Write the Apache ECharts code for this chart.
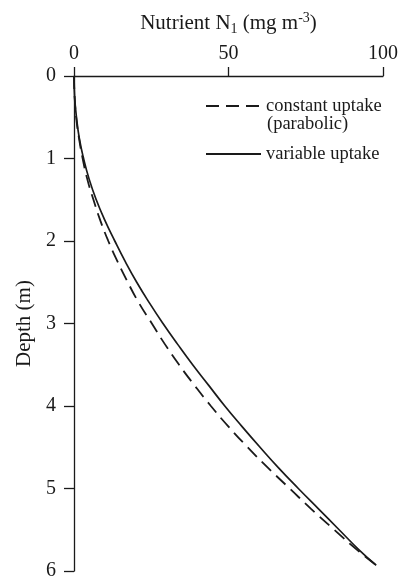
<!DOCTYPE html>
<html><head><meta charset="utf-8">
<script src="https://cdn.jsdelivr.net/npm/echarts@6/dist/echarts.min.js"></script>
<style>html,body{margin:0;padding:0;background:#fff}#c{width:401px;height:581px}</style>
</head><body><div id="c"></div>
<script>
// Depth (m) for each sampled point
const depths = [0, 0.25, 0.5, 0.75, 1, 1.25, 1.5, 1.75, 2, 2.25, 2.5, 2.75, 3, 3.25, 3.5, 3.75, 4, 4.25, 4.5, 4.75, 5, 5.25, 5.5, 5.75, 5.93];
// Nutrient N1 (mg m^-3), constant uptake (parabolic), dashed
const constantUptake = [0, 0.2, 0.7, 1.6, 2.8, 4.3, 6.3, 8.5, 11.1, 14.1, 17.4, 21.0, 25.2, 29.4, 34.0, 39.0, 44.3, 50.0, 56.2, 62.8, 69.8, 76.8, 84.2, 91.8, 97.8];
// Nutrient N1 (mg m^-3), variable uptake, solid
const variableUptake = [0, 0.2, 0.8, 1.7, 3.1, 4.9, 7.2, 10.0, 13.2, 16.6, 20.3, 24.4, 28.8, 33.5, 38.4, 43.6, 48.8, 54.4, 60.2, 66.2, 72.6, 79.2, 85.8, 92.4, 97.8];
const xTicks = [0, 50, 100];
const yTicks = [0, 1, 2, 3, 4, 5, 6];
const seriesNames = ['constant uptake', 'variable uptake'];

const FONT = "'Liberation Serif','Times New Roman',serif";
const INK = '#1a1a1a';
const toPairs = (xs) => xs.map((x, i) => [x, depths[i]]);

const chart = echarts.init(document.getElementById('c'), null, {renderer: 'canvas'});
chart.setOption({
  animation: false,
  backgroundColor: '#fff',
  grid: {left: 74, right: 17, top: 76, bottom: 5, containLabel: false},
  xAxis: {
    type: 'value', position: 'top', min: xTicks[0], max: xTicks[xTicks.length - 1], interval: 50,
    name: 'Nutrient N{sub|1} (mg m{sup|-3})', nameLocation: 'middle', nameGap: 40,
    nameTextStyle: {fontFamily: FONT, fontSize: 21, color: INK,
      rich: {
        sub: {fontFamily: FONT, fontSize: 14, color: INK, padding: [11, 0, 0, 0]},
        sup: {fontFamily: FONT, fontSize: 14, color: INK, padding: [0, 0, 11, 0]}
      }},
    axisLine: {show: true, lineStyle: {color: INK, width: 1.3}},
    axisTick: {show: true, inside: false, length: 9, lineStyle: {color: INK, width: 1.3}},
    axisLabel: {fontFamily: FONT, fontSize: 20, color: INK, margin: 12},
    splitLine: {show: false}
  },
  yAxis: {
    type: 'value', inverse: true, min: yTicks[0], max: yTicks[yTicks.length - 1], interval: 1,
    name: 'Depth (m)', nameLocation: 'middle', nameGap: 37, nameRotate: 90,
    nameTextStyle: {fontFamily: FONT, fontSize: 21, color: INK},
    axisLine: {show: true, lineStyle: {color: INK, width: 1.3}},
    axisTick: {show: true, inside: false, length: 10, lineStyle: {color: INK, width: 1.3}},
    axisLabel: {fontFamily: FONT, fontSize: 20, color: INK, margin: 18},
    splitLine: {show: false}
  },
  legend: {
    orient: 'vertical', left: 200, top: 91, itemWidth: 55, itemHeight: 20, itemGap: 28,
    itemStyle: {opacity: 0},
    textStyle: {fontFamily: FONT, fontSize: 18.5, color: INK, lineHeight: 20},
    data: seriesNames
  },
  graphic: [{
    type: 'text', left: 267, top: 115,
    style: {text: '(parabolic)', font: "18.5px 'Liberation Serif','Times New Roman',serif", fill: INK}
  }],
  series: [
    {name: seriesNames[0], type: 'line', data: toPairs(constantUptake), smooth: true, symbol: 'none',
     lineStyle: {color: INK, width: 1.8, type: [13, 7]}, itemStyle: {color: INK}},
    {name: seriesNames[1], type: 'line', data: toPairs(variableUptake), smooth: true, symbol: 'none',
     lineStyle: {color: INK, width: 1.7, type: 'solid'}, itemStyle: {color: INK}}
  ]
});
</script></body></html>
